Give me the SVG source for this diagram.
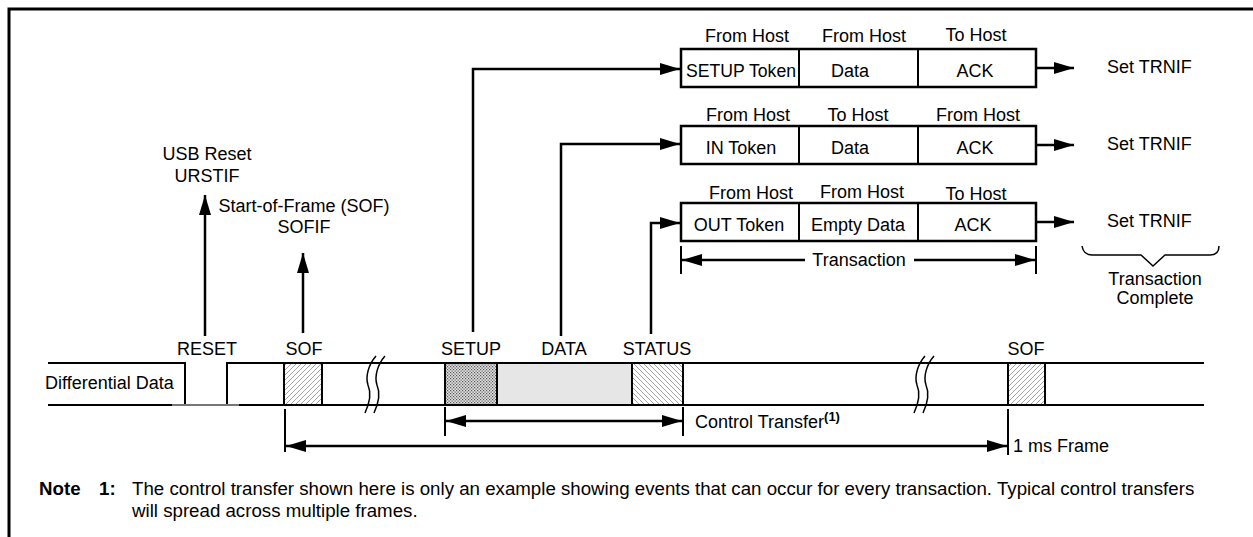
<svg xmlns="http://www.w3.org/2000/svg" width="1253" height="537" viewBox="0 0 1253 537">
<style>
text{font-family:"Liberation Sans",Arial,sans-serif;font-size:18px;fill:#000}
.m{text-anchor:middle}
.ln{stroke:#000;stroke-width:2;fill:none}
.bx{stroke:#000;stroke-width:2.5;fill:#fff}
.arr{stroke:#000;stroke-width:2.5;fill:none;marker-end:url(#ah)}
.dim{stroke:#000;stroke-width:2.5;fill:none;marker-start:url(#ah);marker-end:url(#ah)}
.note{font-size:18.7px}
</style>
<defs>
<marker id="ah" markerUnits="userSpaceOnUse" markerWidth="20" markerHeight="12" refX="20" refY="6" orient="auto-start-reverse" viewBox="0 0 20 12"><path d="M0,0 L20,6 L0,12 z" fill="#000"/></marker>
<pattern id="hf" width="5" height="5" patternUnits="userSpaceOnUse"><rect width="5" height="5" fill="#fff"/><path d="M-1,1 L1,-1 M0,5 L5,0 M4,6 L6,4" stroke="#666" stroke-width="0.6"/></pattern>
<pattern id="hb" width="5" height="5" patternUnits="userSpaceOnUse"><rect width="5" height="5" fill="#fff"/><path d="M-1,4 L1,6 M0,0 L5,5 M4,-1 L6,1" stroke="#666" stroke-width="0.6"/></pattern>
<pattern id="hx" width="3" height="3" patternUnits="userSpaceOnUse"><rect width="3" height="3" fill="#e0e0e0"/><rect width="1.2" height="1.2" fill="#555"/><rect x="1.5" y="1.5" width="1.2" height="1.2" fill="#555"/></pattern>
</defs>

<g id="frame">
<path d="M9,537 V9 H1253" stroke="#000" stroke-width="3" fill="none"/>
</g>

<g id="signal">
<path class="ln" d="M48,363 H185 V405"/>
<path class="ln" d="M227,405 V363 H1204"/>
<path class="ln" d="M48,405 H172"/>
<path d="M172,405 H239" stroke="#777" stroke-width="2"/>
<path class="ln" d="M239,405 H1204"/>
<rect x="284" y="363" width="38" height="42" fill="url(#hf)" stroke="#000" stroke-width="2"/>
<rect x="445" y="363" width="52" height="42" fill="url(#hx)" stroke="#000" stroke-width="2"/>
<rect x="497" y="363" width="135" height="42" fill="#e6e6e6" stroke="#000" stroke-width="2"/>
<rect x="632" y="363" width="51" height="42" fill="url(#hb)" stroke="#000" stroke-width="2"/>
<rect x="1008" y="363" width="37" height="42" fill="url(#hf)" stroke="#000" stroke-width="2"/>
<path d="M365,413 C371,400 371,392 368,385 C365,376 369,364 376,356" stroke="#000" stroke-width="1.5" fill="none"/>
<path d="M374,413 C380,400 380,392 377,385 C374,376 378,364 385,356" stroke="#000" stroke-width="1.5" fill="none"/>
<path d="M914,413 C920,400 920,392 917,385 C914,376 918,364 925,356" stroke="#000" stroke-width="1.5" fill="none"/>
<path d="M923,413 C929,400 929,392 926,385 C923,376 927,364 934,356" stroke="#000" stroke-width="1.5" fill="none"/>
<text x="45" y="389">Differential Data</text>
<text class="m" x="207" y="355">RESET</text>
<text class="m" x="304" y="355">SOF</text>
<text class="m" x="471" y="355">SETUP</text>
<text class="m" x="564" y="355">DATA</text>
<text class="m" x="657" y="355">STATUS</text>
<text class="m" x="1026" y="355">SOF</text>
</g>

<g id="usb-reset">
<text class="m" x="207" y="160">USB Reset</text>
<text class="m" x="207" y="182">URSTIF</text>
</g>
<g id="sof-flag">
<text class="m" x="304" y="212">Start-of-Frame (SOF)</text>
<text class="m" x="304" y="233">SOFIF</text>
</g>

<g id="setup-transaction">
<text class="m" x="747" y="42">From Host</text>
<text class="m" x="864" y="42">From Host</text>
<text class="m" x="976" y="41">To Host</text>
<rect class="bx" x="681" y="49" width="355" height="38"/>
<path class="ln" d="M799,49 V87 M918,49 V87"/>
<text class="m" x="741" y="77" textLength="110" lengthAdjust="spacingAndGlyphs">SETUP Token</text>
<text class="m" x="850" y="77">Data</text>
<text class="m" x="975" y="77">ACK</text>
<text x="1107" y="73">Set TRNIF</text>
</g>

<g id="in-transaction">
<text class="m" x="748" y="121">From Host</text>
<text class="m" x="858" y="121">To Host</text>
<text class="m" x="978" y="121">From Host</text>
<rect class="bx" x="681" y="126" width="355" height="38"/>
<path class="ln" d="M799,126 V164 M918,126 V164"/>
<text class="m" x="741" y="154">IN Token</text>
<text class="m" x="850" y="154">Data</text>
<text class="m" x="975" y="154">ACK</text>
<text x="1107" y="150">Set TRNIF</text>
</g>

<g id="out-transaction">
<text class="m" x="751" y="199">From Host</text>
<text class="m" x="862" y="198">From Host</text>
<text class="m" x="976" y="200">To Host</text>
<rect class="bx" x="681" y="203" width="355" height="38"/>
<path class="ln" d="M799,203 V241 M918,203 V241"/>
<text class="m" x="739" y="231">OUT Token</text>
<text class="m" x="858" y="231">Empty Data</text>
<text class="m" x="973" y="231">ACK</text>
<text x="1107" y="227">Set TRNIF</text>
</g>

<g id="transaction-complete">
<path d="M1082,246 C1083,252 1086,255 1092,255 L1141,255 L1153,266 L1165,255 L1210,255 C1216,255 1219,252 1219,246" stroke="#000" stroke-width="1.5" fill="none"/>
<text class="m" x="1155" y="285">Transaction</text>
<text class="m" x="1155" y="304">Complete</text>
</g>

<g id="connectors">
<path class="arr" d="M205,336 V195"/>
<path class="arr" d="M303,333 V253"/>
<path class="arr" d="M473,332 V69 H680"/>
<path class="arr" d="M561,336 V144 H680"/>
<path class="arr" d="M651,334 V223 H680"/>
<path class="arr" d="M1036,68 H1074"/>
<path class="arr" d="M1036,145 H1074"/>
<path class="arr" d="M1036,222 H1074"/>
<path class="ln" d="M681,246 V274 M1036,246 V274"/>
<path class="arr" d="M805,260 H682"/>
<path class="arr" d="M914,260 H1035"/>
<text class="m" x="859" y="266">Transaction</text>
<path class="ln" d="M445,407 V436 M683,407 V436"/>
<path class="dim" d="M446,421 H682"/>
<text x="695" y="428">Control Transfer<tspan font-size="13" font-weight="bold" dy="-7">(1)</tspan></text>
<path class="ln" d="M285,409 V452 M1008,409 V455"/>
<path class="dim" d="M286,446 H1007"/>
<text x="1013" y="452">1 ms Frame</text>
</g>

<g id="note">
<text class="note" x="39" y="495" font-weight="bold">Note</text>
<text class="note" x="99" y="495" font-weight="bold">1:</text>
<text class="note" x="132" y="495">The control transfer shown here is only an example showing events that can occur for every transaction. Typical control transfers</text>
<text class="note" x="132" y="517">will spread across multiple frames.</text>
</g>
</svg>
